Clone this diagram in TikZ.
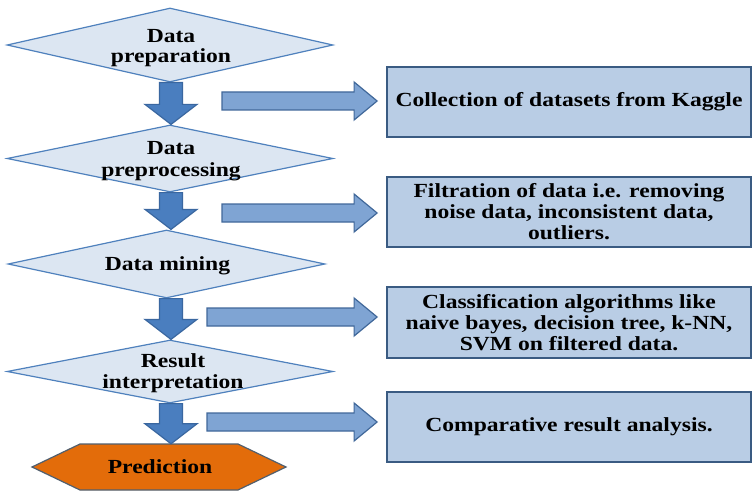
\documentclass[tikz,border=0pt]{standalone}
\usepackage{fontspec}
\setmainfont{Liberation Serif}[FakeStretch=1.18]
\usetikzlibrary{shapes.geometric,calc}
\definecolor{diafill}{HTML}{DCE6F2}
\definecolor{diastroke}{HTML}{4F81BD}
\definecolor{boxfill}{HTML}{B9CDE5}
\definecolor{boxstroke}{HTML}{3A5B82}
\definecolor{dnfill}{HTML}{4A7EBF}
\definecolor{dnstroke}{HTML}{3A67A0}
\definecolor{rtfill}{HTML}{7FA4D3}
\definecolor{rtstroke}{HTML}{41689A}
\definecolor{predfill}{HTML}{E36C0A}
\definecolor{predstroke}{HTML}{515F6E}
\newcommand{\dnblock}[3]{% from node, to node, x
  \draw[dnarr] let \p1=(#1.south), \p2=(#2.north) in
    ({#3pt-11.5pt},\y1) -- ({#3pt+11.5pt},\y1) -- ({#3pt+11.5pt},{\y2+20pt})
    -- ({#3pt+26pt},{\y2+20pt}) -- ({#3pt},\y2) -- ({#3pt-26pt},{\y2+20pt})
    -- ({#3pt-11.5pt},{\y2+20pt}) -- cycle;}
\newcommand{\rtblock}[2]{% start coordinate, box
  \draw[rtarr] let \p1=(#1), \p2=(#2.west) in
    (\x1,{\y1+9pt}) -- ({\x2-32pt},{\y1+9pt}) -- ({\x2-32pt},{\y1+19pt})
    -- ({\x2-9pt},\y1) -- ({\x2-32pt},{\y1-19pt}) -- ({\x2-32pt},{\y1-9pt})
    -- (\x1,{\y1-9pt}) -- cycle;}
\begin{document}
\begin{tikzpicture}[x=1pt,y=-1pt,
  dia/.style={shape=diamond,draw=diastroke,fill=diafill,line width=1.2pt,inner sep=0pt},
  diatext/.style={align=center,font=\fontsize{20}{21}\selectfont\bfseries,inner sep=0pt},
  infobox/.style={draw=boxstroke,fill=boxfill,line width=1.8pt,minimum width=364pt,inner sep=0pt,
    align=center,font=\fontsize{20}{21}\selectfont\bfseries},
  dnarr/.style={draw=dnstroke,fill=dnfill,line width=1.2pt,line join=miter},
  rtarr/.style={draw=rtstroke,fill=rtfill,line width=1.2pt,line join=miter},
  predshape/.style={draw=predstroke,fill=predfill,line width=1.2pt}]
\useasboundingbox (0,0) rectangle (755,492);
\fill[white] (0,0) rectangle (755,492);
% diamonds
\node[dia,minimum width=326pt,minimum height=74pt] (d1) at (170,45) {};
\node[dia,minimum width=326pt,minimum height=67pt] (d2) at (170,158.5) {};
\node[dia,minimum width=317pt,minimum height=68pt] (d3) at (166.5,264) {};
\node[dia,minimum width=326pt,minimum height=63pt] (d4) at (170,371.5) {};
% prediction hexagon
\draw[predshape] (32,467) -- (80,444) -- (238,444) -- (286,467) -- (238,490) -- (80,490) -- cycle;
\node[minimum width=160pt,minimum height=46pt,inner sep=0pt] (pbox) at (159,467) {};
% info boxes
\node[infobox,minimum height=70pt] (b1) at (569,102) {Collection of datasets from Kaggle};
\node[infobox,minimum height=70pt] (b2) at (569,212) {Filtration of data i.e. removing\\noise data, inconsistent data,\\outliers.};
\node[infobox,minimum height=71pt] (b3) at (569,322.5) {Classification algorithms like\\naive bayes, decision tree, k-NN,\\SVM on filtered data.};
\node[infobox,minimum height=70pt] (b4) at (569,427) {Comparative result analysis.};
% down block arrows
\dnblock{d1}{d2}{171}
\dnblock{d2}{d3}{171}
\dnblock{d3}{d4}{171}
\dnblock{d4}{pbox}{171}
% right block arrows
\coordinate (r1) at (222,101);
\coordinate (r2) at (222,213);
\coordinate (r3) at (207,317);
\coordinate (r4) at (207,422);
\rtblock{r1}{b1}
\rtblock{r2}{b2}
\rtblock{r3}{b3}
\rtblock{r4}{b4}
% texts
\node[diatext] (t1) at (171,48) {Data\\[-1pt]preparation};
\node[diatext] (t2) at (171,161.5) {Data\\[1pt]preprocessing};
\node[diatext,anchor=base] (t3) at (167.5,270) {Data mining};
\node[diatext] (t4) at (173,373) {Result\\interpretation};
\node[diatext,anchor=base] (pred) at (160,473) {Prediction};
\end{tikzpicture}
\end{document}
